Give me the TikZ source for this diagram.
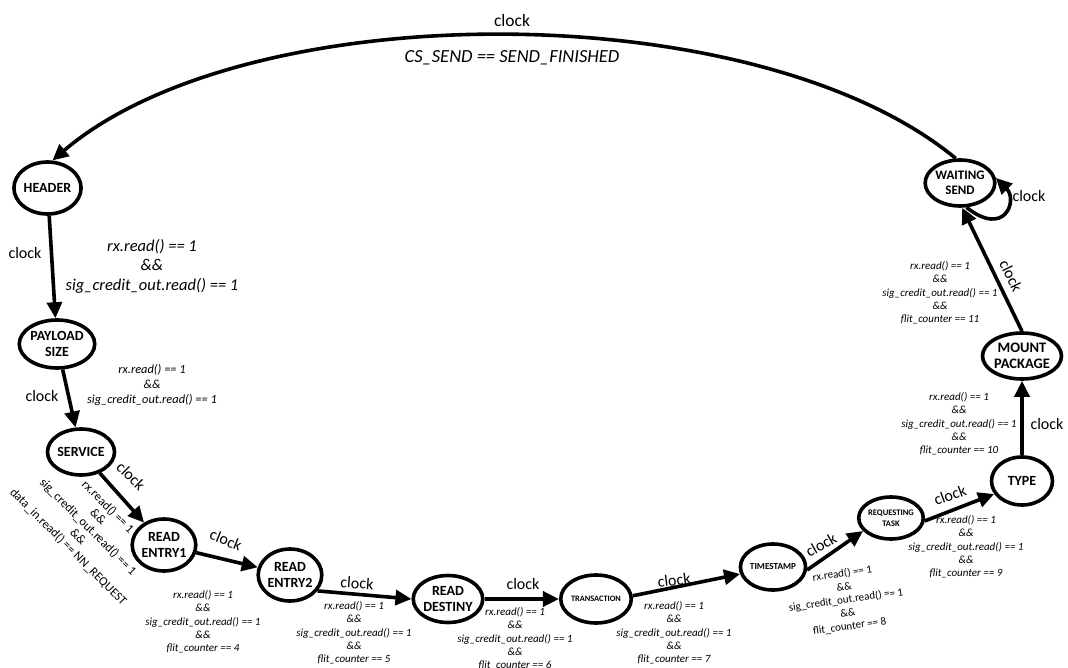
\documentclass[tikz,border=0pt]{standalone}
\usepackage{fontspec}
\setmainfont{Carlito}
\usetikzlibrary{shapes.geometric,arrows.meta}
\begin{document}
\begin{tikzpicture}[x=1pt,y=-1pt,
  state/.style={ellipse,draw,line width=3.6pt,inner sep=0pt,
    minimum width=61pt,minimum height=48pt,align=center,
    font=\fontsize{14}{16}\selectfont\bfseries},
  trans/.style={line width=3.6pt,-{Triangle[length=16pt,width=15pt]}},
  lbl/.style={inner sep=0pt,font=\fontsize{16}{18}\selectfont},
  cond/.style={align=center,inner sep=0pt,font=\fontsize{11}{13.3}\selectfont\itshape},
  bigcond/.style={align=center,inner sep=0pt,font=\fontsize{16.5}{19.5}\selectfont\itshape},
  tiltcond/.style={align=center,inner sep=0pt,font=\fontsize{11}{13.3}\selectfont}
]
\useasboundingbox (0,0) rectangle (1068,668);

% states
\node[state,minimum width=62pt,minimum height=52pt] (hdr) at (47.5,188) {HEADER};
\node[state] (pay) at (57,344) {PAYLOAD\\SIZE};
\node[state,minimum height=46pt] (srv) at (81,452) {SERVICE};
\node[state,minimum height=52pt] (re1) at (164,545) {READ\\ENTRY1};
\node[state,minimum height=52pt] (re2) at (290,575) {READ\\ENTRY2};
\node[state,minimum width=59pt,minimum height=47pt] (rd) at (448,599) {READ\\DESTINY};
\node[state,minimum width=62pt,minimum height=48pt,
  font=\fontsize{8.3}{10}\selectfont\bfseries] (tr) at (596,599) {TRANSACTION};
\node[state,minimum width=59pt,minimum height=46pt,
  font=\fontsize{9.2}{11}\selectfont\bfseries] (ts) at (773,567) {TIMESTAMP};
\node[state,minimum width=60pt,minimum height=42pt,
  font=\fontsize{8.5}{10.7}\selectfont\bfseries] (rq) at (891,518) {REQUESTING\\TASK};
\node[state,minimum height=48pt] (ty) at (1022,481) {TYPE};
\node[state,minimum height=46pt,
  font=\fontsize{14.5}{15.5}\selectfont\bfseries] (mp) at (1022,356) {MOUNT\\PACKAGE};
\node[state,minimum height=46pt,
  font=\fontsize{13}{14.5}\selectfont\bfseries] (ws) at (960,183) {WAITING\\SEND};

% transitions
\draw[trans] (hdr) -- (pay);
\draw[trans] (pay) -- (srv);
\draw[trans] (srv) -- (re1);
\draw[trans] (re1) -- (re2);
\draw[trans] (re2.-30) -- (rd.west);
\draw[trans] (rd) -- (tr);
\draw[trans] (tr.5) -- (ts.192);
\draw[trans] (ts.-5) -- (rq.205);
\draw[trans] (rq.-5) -- (ty.205);
\draw[trans] (ty) -- (mp);
\draw[trans] (mp.north) -- (ws.-85);
\draw[trans] (ws.100) .. controls (757,-6) and (248,-6) .. (hdr.80);
\draw[trans] (ws.-75) .. controls (1005,238) and (1018,200) .. (ws.8);

% clock labels
\node[lbl] (c1) at (25,253) {clock};
\node[lbl] (c2) at (42,396) {clock};
\node[lbl,rotate=-45] (c3) at (131,476) {clock};
\node[lbl,rotate=-22] (c4) at (226,540) {clock};
\node[lbl,rotate=-4] (c5) at (357,583) {clock};
\node[lbl] (c6) at (523,584) {clock};
\node[lbl,rotate=7] (c7) at (674,580) {clock};
\node[lbl,rotate=30] (c8) at (821,545) {clock};
\node[lbl,rotate=20] (c9) at (950,495) {clock};
\node[lbl] (c10) at (1047,424) {clock};
\node[lbl,rotate=-64] (c11) at (1011,276) {clock};
\node[lbl] (c12) at (1029,196) {clock};
\node[lbl,font=\fontsize{17.5}{19}\selectfont] (c13) at (512,20) {clock};

% guard conditions
\node[lbl,font=\fontsize{18.5}{20}\selectfont\itshape] (k0) at (512,58) {CS\_SEND == SEND\_FINISHED};
\node[bigcond] (k1) at (152,266) {rx.read() == 1\\\&\&\\sig\_credit\_out.read() == 1};
\node[cond,font=\fontsize{12.4}{15}\selectfont\itshape] (k2) at (152,385) {rx.read() == 1\\\&\&\\sig\_credit\_out.read() == 1};
\node[tiltcond,rotate=-45,font=\fontsize{12.5}{14}\selectfont] (k3) at (88,527) {rx.read() == 1\\\&\&\\sig\_credit\_out.read() == 1\\\&\&\\data\_in.read() == NN\_REQUEST};
\node[cond] (k4) at (203,622) {rx.read() == 1\\\&\&\\sig\_credit\_out.read() == 1\\\&\&\\flit\_counter == 4};
\node[cond] (k5) at (354,633) {rx.read() == 1\\\&\&\\sig\_credit\_out.read() == 1\\\&\&\\flit\_counter == 5};
\node[cond] (k6) at (515,639) {rx.read() == 1\\\&\&\\sig\_credit\_out.read() == 1\\\&\&\\flit\_counter == 6};
\node[cond] (k7) at (674,633) {rx.read() == 1\\\&\&\\sig\_credit\_out.read() == 1\\\&\&\\flit\_counter == 7};
\node[tiltcond,rotate=8] (k8) at (846,600) {rx.read() == 1\\\&\&\\sig\_credit\_out.read() == 1\\\&\&\\flit\_counter == 8};
\node[cond] (k9) at (966,547) {rx.read() == 1\\\&\&\\sig\_credit\_out.read() == 1\\\&\&\\flit\_counter == 9};
\node[cond] (k10) at (959,424) {rx.read() == 1\\\&\&\\sig\_credit\_out.read() == 1\\\&\&\\flit\_counter == 10};
\node[cond] (k11) at (940,293) {rx.read() == 1\\\&\&\\sig\_credit\_out.read() == 1\\\&\&\\flit\_counter == 11};
\end{tikzpicture}
\end{document}
